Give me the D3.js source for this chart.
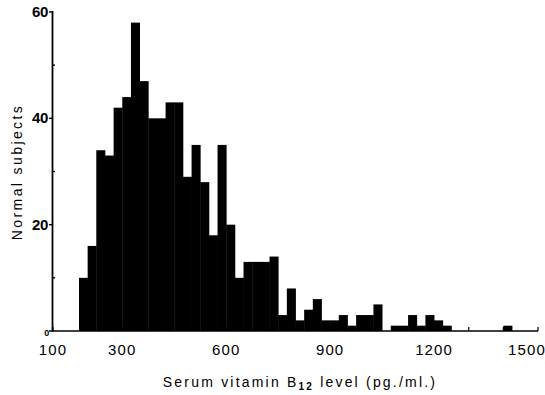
<!DOCTYPE html>
<html><head><meta charset="utf-8">
<script src="https://cdn.jsdelivr.net/npm/d3@7/dist/d3.min.js"></script>
<style>
html,body{margin:0;padding:0;background:#fff;}
svg{display:block;font-family:"Liberation Sans",Arial,Helvetica,sans-serif;}
</style></head>
<body><svg id="c" width="545" height="395"></svg>
<script>
// Bin lower edges (pg/ml), bin width 25
const binLow = [175,200,225,250,275,300,325,350,375,400,425,450,475,500,525,550,575,600,625,650,675,700,725,750,775,800,825,850,875,900,925,950,975,1000,1025,1050,1075,1100,1125,1150,1175,1200,1225,1250,1275,1300,1325,1350,1375,1400];
const counts = [10,16,34,33,42,44,58,47,40,40,43,43,29,35,28,18,35,20,10,13,13,13,14,3,8,2,4,6,2,2,3,1,3,3,5,0,1,1,3,1,3,2,1,0,0,0,0,0,0,1];
const binWidth = 25;
const xTickLabels = [100,300,600,900,1200,1500];
const xMinorTicks = [100,200,300,400,500,600,700,800,900,1000,1100,1200,1300,1400,1500];
const yTickLabels = [0,20,40,60];
const yMinorTicks = [10,30,50];
const xTitle = ["Serum vitamin B", "12", " level (pg./ml.)"];
const yTitle = "Normal subjects";

const svg = d3.select("#c");
const x = d3.scaleLinear().domain([100,1500]).range([53,538]);
const y = d3.scaleLinear().domain([0,60]).range([331,12]);

// bars
svg.append("g").selectAll("rect").data(binLow).join("rect")
  .attr("x", d => x(d))
  .attr("width", d => x(d+binWidth)-x(d)+0.4)
  .attr("y", (d,i) => y(counts[i]))
  .attr("height", (d,i) => y(0)-y(counts[i]))
  .attr("fill","#000");

// x axis line
svg.append("line").attr("x1",x(100)-1).attr("x2",x(1500)).attr("y1",y(0)).attr("y2",y(0))
  .attr("stroke","#000").attr("stroke-width",1.6);
// x ticks (inward)
svg.append("g").selectAll("line").data(xMinorTicks).join("line")
  .attr("x1",d=>x(d)).attr("x2",d=>x(d)).attr("y1",y(0)).attr("y2",y(0)-4)
  .attr("stroke","#000").attr("stroke-width",1.2);
const lastLabel = xTickLabels[xTickLabels.length-1];
svg.append("g").selectAll("text").data(xTickLabels).join("text")
  .attr("x",d=> d===lastLabel ? x(d)-11 : x(d)).attr("y",355)
  .attr("text-anchor","middle").attr("font-size",15).attr("letter-spacing",1.1)
  .text(d=>d);

// y axis
svg.append("line").attr("x1",52.5).attr("x2",52.5).attr("y1",y(60)-1).attr("y2",y(0)+0.8)
  .attr("stroke","#000").attr("stroke-width",1.8);
svg.append("g").selectAll("line").data(yTickLabels).join("line")
  .attr("x1",49).attr("x2",53).attr("y1",d=>y(d)).attr("y2",d=>y(d))
  .attr("stroke","#000").attr("stroke-width",1.4);
svg.append("g").selectAll("line").data(yMinorTicks).join("line")
  .attr("x1",52).attr("x2",55).attr("y1",d=>y(d)).attr("y2",d=>y(d))
  .attr("stroke","#000").attr("stroke-width",1.4);
svg.append("g").selectAll("text").data(yTickLabels).join("text")
  .attr("x",d=> d===0 ? 49 : 48).attr("y",d=>y(d)+5)
  .attr("text-anchor","end")
  .attr("font-size",d=> d===0 ? 9 : 15).attr("font-weight","bold")
  .attr("letter-spacing",-0.3)
  .text(d=>d);

// x title
const xt = svg.append("text").attr("x",300).attr("y",387).attr("text-anchor","middle")
  .attr("font-size",14).attr("letter-spacing",2.2);
xt.append("tspan").text(xTitle[0]);
xt.append("tspan").attr("font-size",10).attr("font-weight","bold").attr("dy",3).text(xTitle[1]);
xt.append("tspan").attr("dy",-3).text(xTitle[2]);

// y title
svg.append("text").attr("transform","translate(22,172) rotate(-90)")
  .attr("text-anchor","middle").attr("font-size",14).attr("letter-spacing",2.4)
  .text(yTitle);
</script></body></html>
